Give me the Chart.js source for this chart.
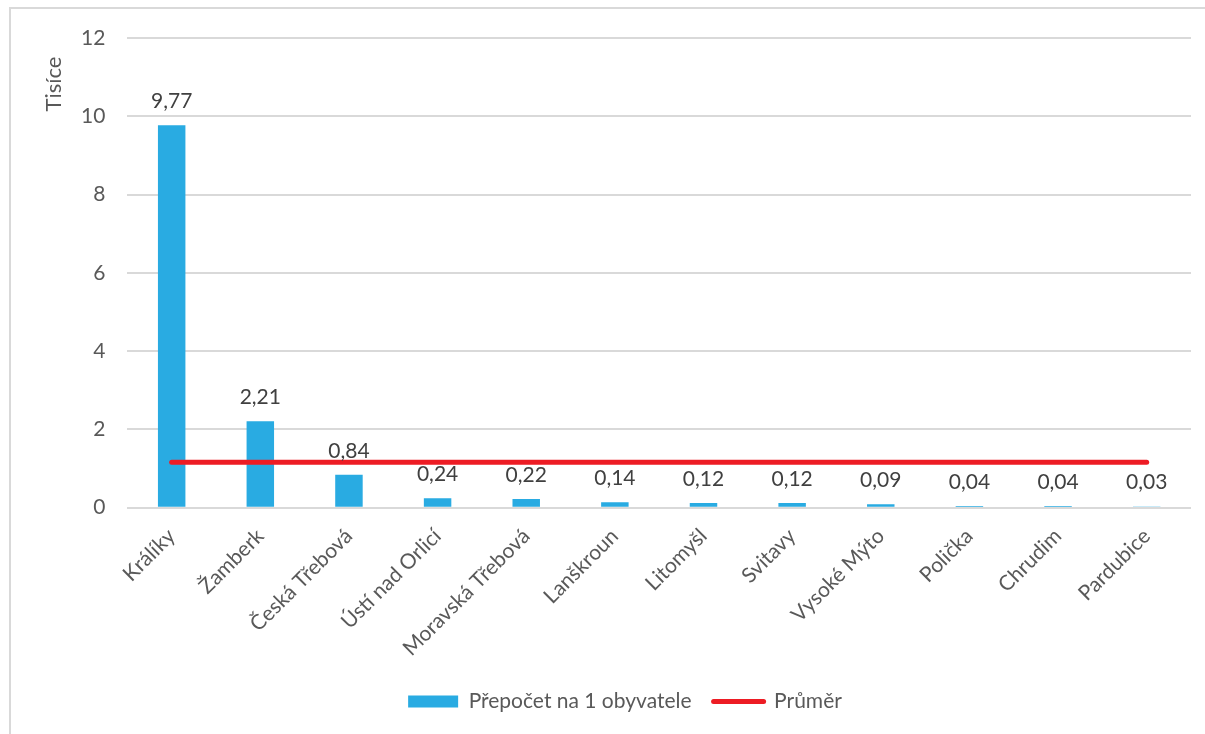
<!DOCTYPE html>
<html>
<head>
<meta charset="utf-8">
<script src="https://cdn.jsdelivr.net/npm/chart.js@4/dist/chart.umd.min.js"></script>
<style>
  html, body { margin: 0; padding: 0; background: #fff; overflow: hidden; }
  #ramecek { position: absolute; left: 9px; top: 7px; width: 1300px; height: 800px; border: 2px solid #d9d9d9; }
  #obal { position: absolute; left: 0; top: 0; width: 1205px; height: 734px; }
</style>
</head>
<body>
<div id="ramecek"></div>
<div id="obal"><canvas id="graf" width="1205" height="734"></canvas></div>
<script>
var mesta = ['Králíky', 'Žamberk', 'Česká Třebová', 'Ústí nad Orlicí', 'Moravská Třebová', 'Lanškroun',
  'Litomyšl', 'Svitavy', 'Vysoké Mýto', 'Polička', 'Chrudim', 'Pardubice'];
var prepocet = [9.77, 2.21, 0.84, 0.24, 0.22, 0.14, 0.12, 0.12, 0.09, 0.04, 0.04, 0.03];
var prumer = [1.16, 1.16, 1.16, 1.16, 1.16, 1.16, 1.16, 1.16, 1.16, 1.16, 1.16, 1.16];
var osaY = { min: 0, max: 12, krok: 2 };
var jednotka = 'Tisíce';

var pismo = 'Lato, "Open Sans", sans-serif';

// hodnoty nad sloupci + popis osy Y (jednotky)
var popisky = {
  id: 'popisky',
  afterDatasetsDraw: function(chart) {
    var ctx = chart.ctx;
    var meta = chart.getDatasetMeta(0);
    ctx.save();
    ctx.font = '21px ' + pismo;
    ctx.fillStyle = '#404040';
    ctx.textAlign = 'center';
    ctx.textBaseline = 'middle';
    meta.data.forEach(function(bar, i) {
      ctx.fillText(prepocet[i].toFixed(2).replace('.', ','), bar.x, bar.y - 24);
    });
    ctx.restore();
  },
  afterDraw: function(chart) {
    var ctx = chart.ctx;
    var area = chart.chartArea;
    ctx.save();
    ctx.translate(area.left - 73, area.top + 46);
    ctx.rotate(-Math.PI / 2);
    ctx.font = '22px ' + pismo;
    ctx.fillStyle = '#595959';
    ctx.textAlign = 'center';
    ctx.textBaseline = 'middle';
    ctx.fillText(jednotka, 0, 0);
    ctx.restore();
  }
};

var ctx = document.getElementById('graf').getContext('2d');
var graf = new Chart(ctx, {
  type: 'bar',
  data: {
    labels: mesta,
    datasets: [{
      label: 'Přepočet na 1 obyvatele',
      data: prepocet,
      backgroundColor: '#29abe2',
      borderWidth: 0,
      categoryPercentage: 1,
      barPercentage: 0.31,
      order: 1
    }, {
      type: 'line',
      label: 'Průměr',
      data: prumer,
      borderColor: '#ed1c24',
      backgroundColor: '#ed1c24',
      borderWidth: 5,
      borderCapStyle: 'round',
      pointRadius: 0,
      fill: false,
      order: 0
    }]
  },
  options: {
    responsive: false,
    animation: false,
    layout: { padding: { left: 59, right: 14, top: 38, bottom: 12 } },
    plugins: {
      tooltip: { enabled: false },
      legend: {
        position: 'bottom',
        labels: {
          font: { family: pismo, size: 21 },
          color: '#595959',
          usePointStyle: true,
          pointStyleWidth: 50,
          boxHeight: 12,
          padding: 22,
          sort: function(a, b) { return a.datasetIndex - b.datasetIndex; },
          generateLabels: function(chart) {
            var items = Chart.defaults.plugins.legend.labels.generateLabels(chart);
            items.forEach(function(it) {
              if (it.datasetIndex === 1) {
                it.pointStyle = 'line';
                it.lineCap = 'round';
              } else {
                it.pointStyle = 'rect';
                it.lineWidth = 0;
              }
            });
            return items;
          }
        }
      }
    },
    scales: {
      x: {
        grid: { display: false },
        border: { display: false },
        ticks: {
          font: { family: pismo, size: 21 },
          color: '#595959',
          minRotation: 45,
          maxRotation: 45,
          padding: 8
        }
      },
      y: {
        min: osaY.min,
        max: osaY.max,
        border: { display: false },
        grid: { color: '#d9d9d9', lineWidth: 2, drawTicks: false },
        ticks: {
          stepSize: osaY.krok,
          font: { family: pismo, size: 21 },
          color: '#595959',
          padding: 22
        }
      }
    }
  },
  plugins: [popisky]
});
</script>
</body>
</html>
